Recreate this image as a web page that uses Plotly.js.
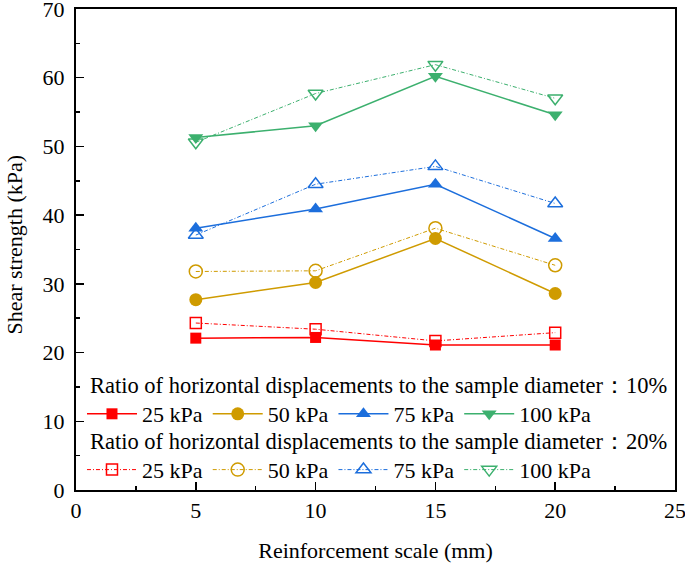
<!DOCTYPE html>
<html>
<head>
<meta charset="utf-8">
<script src="https://cdn.plot.ly/plotly-3.0.1.min.js"></script>
<style>html,body{margin:0;padding:0;background:#fff;}#chart{width:685px;height:563px;}</style>
</head>
<body>
<div id="chart"></div>
<script>
// Data
const scale = [5, 10, 15, 20];
const pressures = ['25 kPa', '50 kPa', '75 kPa', '100 kPa'];
// Ratio 10%
const r10_25 = [22.1, 22.2, 21.1, 21.1];
const r10_50 = [27.7, 30.2, 36.6, 28.6];
const r10_75 = [38.1, 40.9, 44.5, 36.6];
const r10_100 = [51.3, 53.0, 60.2, 54.6];
// Ratio 20%
const r20_25 = [24.3, 23.4, 21.7, 22.9];
const r20_50 = [31.8, 31.9, 38.1, 32.7];
const r20_75 = [37.1, 44.5, 47.1, 41.7];
const r20_100 = [50.6, 57.7, 61.9, 57.0];
const legendTitle10 = 'Ratio of horizontal displacements to the sample diameter\uFF1A10%';
const legendTitle20 = 'Ratio of horizontal displacements to the sample diameter\uFF1A20%';
const xTitle = 'Reinforcement scale (mm)';
const yTitle = 'Shear strength (kPa)';

const colors = ['#FF0000', '#CF9B00', '#1C6EDC', '#3CB06E'];
const sym10 = ['square', 'circle', 'triangle-up', 'triangle-down'];
const sym20 = ['square-open', 'circle-open', 'triangle-up-open', 'triangle-down-open'];
const sizes = [11, 13, 13, 13];
const set10 = [r10_25, r10_50, r10_75, r10_100];
const set20 = [r20_25, r20_50, r20_75, r20_100];

const traces = [];
set10.forEach((ys, i) => {
  traces.push({
    x: scale, y: ys, name: pressures[i], type: 'scatter', mode: 'lines+markers',
    line: {color: colors[i], width: 1.5},
    marker: {symbol: sym10[i], size: sizes[i], color: colors[i]},
    legend: 'legend'
  });
});
set20.forEach((ys, i) => {
  traces.push({
    x: scale, y: ys, name: pressures[i], type: 'scatter', mode: 'lines+markers',
    line: {color: colors[i], width: 1, dash: '4px,2px,1px,2px'},
    marker: {symbol: sym20[i], size: sizes[i], color: colors[i], line: {width: 1.5, color: colors[i]}},
    legend: 'legend2'
  });
});

const fontFam = 'Liberation Serif, Times New Roman, serif';
const legendCommon = {
  orientation: 'h', xanchor: 'left', yanchor: 'middle', x: 0.01,
  bgcolor: 'rgba(0,0,0,0)', borderwidth: 0,
  font: {family: fontFam, size: 22, color: '#000'},
  itemwidth: 50, tracegroupgap: 0
};
const layout = {
  width: 685, height: 563,
  margin: {l: 76, r: 10, t: 9, b: 73, autoexpand: false},
  paper_bgcolor: '#fff', plot_bgcolor: '#fff',
  font: {family: fontFam, size: 22, color: '#000'},
  showlegend: true,
  xaxis: {
    range: [0, 25], dtick: 5, tick0: 0,
    showline: true, linewidth: 2, linecolor: '#000', mirror: true,
    ticks: 'inside', ticklen: 8, tickwidth: 1.5, tickcolor: '#000',
    minor: {ticks: 'inside', ticklen: 4, dtick: 2.5, tickwidth: 1.5, tickcolor: '#000'},
    showgrid: false, zeroline: false, ticklabeloverflow: 'allow',
    tickfont: {family: fontFam, size: 22},
    title: {text: xTitle, font: {family: fontFam, size: 22}, standoff: 20}
  },
  yaxis: {
    range: [0, 70], dtick: 10, tick0: 0,
    showline: true, linewidth: 2, linecolor: '#000', mirror: true,
    ticks: 'inside', ticklen: 8, tickwidth: 1.5, tickcolor: '#000',
    minor: {ticks: 'inside', ticklen: 4, dtick: 5, tickwidth: 1.5, tickcolor: '#000'},
    showgrid: false, zeroline: false, ticklabeloverflow: 'allow', ticklabelstandoff: 5,
    tickfont: {family: fontFam, size: 22}
  },
  legend: Object.assign({}, legendCommon, {y: 0.158}),
  legend2: Object.assign({}, legendCommon, {y: 0.042}),
  annotations: [
    {text: legendTitle10, xref: 'paper', yref: 'paper', x: 0.02, y: 0.218, xanchor: 'left', yanchor: 'middle', showarrow: false, font: {family: fontFam, size: 22.5, color: '#000'}},
    {text: legendTitle20, xref: 'paper', yref: 'paper', x: 0.02, y: 0.100, xanchor: 'left', yanchor: 'middle', showarrow: false, font: {family: fontFam, size: 22.5, color: '#000'}},
    {text: yTitle, xref: 'paper', yref: 'paper', x: -0.102, y: 0.51, xanchor: 'center', yanchor: 'middle', textangle: -90, showarrow: false, font: {family: fontFam, size: 22, color: '#000'}}
  ]
};
Plotly.newPlot('chart', traces, layout, {displayModeBar: false, staticPlot: true});
</script>
</body>
</html>
